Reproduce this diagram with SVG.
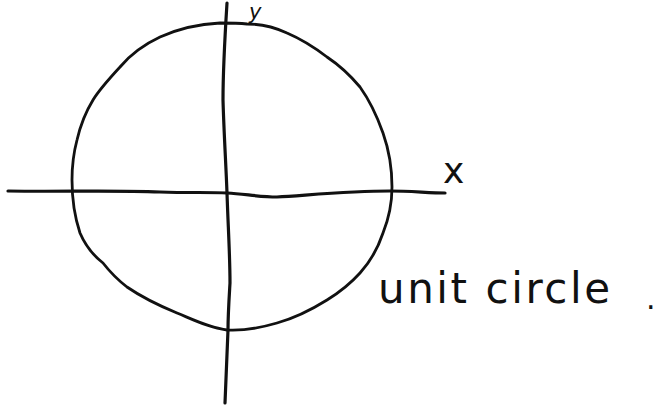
<svg xmlns="http://www.w3.org/2000/svg" width="660" height="406" viewBox="0 0 660 406">
<style>
.ink{fill:none;stroke:#111;stroke-linecap:round;stroke-linejoin:round}
.hand{fill:#111;font-family:"DejaVu Sans","Liberation Sans",sans-serif}
</style>
<rect width="660" height="406" fill="#fff"/>
<g id="circle">
<path class="ink" stroke-width="2.8" d="M220,23 C200,24 180,28 160,37 C145,44 130,55 120,67 C108,80 99,90 93,100 C85,113 80,127 77,140 C73,155 72,168 72,180 C72,200 75,218 80,233 C86,247 94,256 103,263 C110,272 118,280 127,287 C143,298 160,306 177,313 C194,320 210,328 227,330 C245,331 260,328 277,323 C295,318 311,310 327,300 C340,292 351,283 360,273 C370,262 378,248 383,233 C389,218 392,203 392,187 C392,168 389,150 383,133 C377,116 370,101 360,87 C350,75 339,65 327,57 C314,47 301,39 287,33 C274,27 260,24 247,24 C238,23 229,23 220,23 Z"/>
</g>
<g id="connectors">
<path id="x-axis" class="ink" stroke-width="3.2" d="M8,191 C60,192 110,190 160,192 C190,193 210,192 227,193 C245,194 260,197 277,197 C310,195 350,191 390,191 C410,191 430,193 445,193"/>
<path id="y-axis" class="ink" stroke-width="3.2" d="M227,3 C225,35 223,70 223,100 C224,135 226,165 227,193 C228,225 230,255 230,283 C229,300 228,315 228,330 C227,355 226,380 225,403"/>
</g>
<g id="labels">
<text class="hand" x="249" y="19" font-size="21" font-style="italic">y</text>
<text class="hand" x="443" y="183" font-size="36">x</text>
<text class="hand" x="378" y="303" font-size="42" textLength="232" lengthAdjust="spacing">unit circle</text>
<text class="hand" x="646" y="309" font-size="30">.</text>
</g>
</svg>
